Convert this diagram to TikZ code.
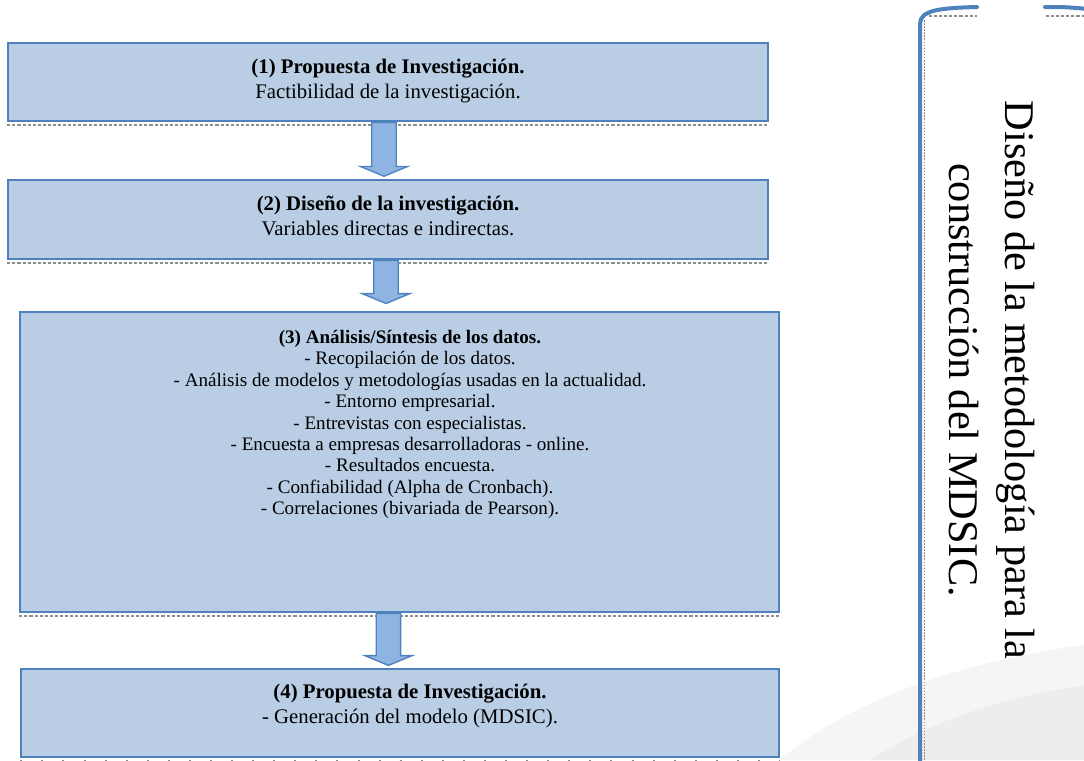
\documentclass[tikz,border=0pt]{standalone}
\usepackage{fontspec}
\setmainfont{Liberation Serif}
\usetikzlibrary{shapes.arrows, fit}
\definecolor{boxfill}{HTML}{B9CDE4}
\definecolor{boxline}{HTML}{4F81BD}
\definecolor{arrowfill}{HTML}{8EB4E3}
\definecolor{shadowgray}{HTML}{8C8C8C}

\begin{document}
\begin{tikzpicture}[x=0.65pt, y=-0.65pt,
    stagebox/.style={draw=boxline, fill=boxfill, line width=0.9pt, inner sep=0pt},
    stagetext/.style={align=center, anchor=north, inner sep=0pt, font=\fontsize{13.5}{16.2}\selectfont},
    downarrow/.style={single arrow, draw=boxline, fill=arrowfill, line width=0.9pt,
        rotate=-90, anchor=tail, inner xsep=0pt, inner ysep=7.5pt,
        single arrow head extend=7.4pt, single arrow tip angle=135},
    boxshadow/.style={shadowgray, line width=1.3pt, dash pattern=on 2pt off 1.3pt},
    scrollline/.style={boxline, line width=2.6pt, line cap=round}]
    \useasboundingbox (0,0) rectangle (1084,760);

    % Faint globe watermark (bottom right)
    \fill[black!4] (780,760) .. controls (850,700) and (960,662) .. (1084,645) -- (1084,760) -- cycle;
    \fill[black!7] (870,760) .. controls (930,722) and (1000,697) .. (1084,686) -- (1084,760) -- cycle;

    % Stage boxes
    \node[stagebox, fit={(8,43) (768,121)}] (prop) {};
    \node[stagebox, fit={(8,180) (768,259)}] (dis) {};
    \node[stagebox, fit={(20,312) (779,612)}] (ana) {};
    \node[stagebox, fit={(21,669) (779,757)}] (gen) {};

    % Dotted shadows under the boxes
    \draw[boxshadow] ([yshift=-2pt]prop.south west) -- ([yshift=-2pt]prop.south east);
    \draw[boxshadow] ([yshift=-2pt]dis.south west) -- ([yshift=-2pt]dis.south east);
    \draw[boxshadow] ([yshift=-2pt]ana.south west) -- ([yshift=-2pt]ana.south east);
    \draw[boxshadow, dash pattern=on 1.3pt off 12.4pt] ([yshift=-2pt]gen.south west) -- ([yshift=-2pt]gen.south east);

    % Block arrows between the stages
    \node[downarrow, minimum height=35pt] (a1) at ([xshift=-2.6pt]prop.south) {};
    \node[downarrow, minimum height=28pt] (a2) at ([xshift=-1.3pt]dis.south) {};
    \node[downarrow, minimum height=33.8pt] (a3) at ([xshift=-7.2pt]ana.south) {};

    % Texts of the stages
    \node[stagetext] (t1) at (388,59) {\textbf{(1) Propuesta de Investigación.}\\Factibilidad de la investigación.};
    \node[stagetext] (t2) at (388,196) {\textbf{(2) Diseño de la investigación.}\\Variables directas e indirectas.};
    \node[stagetext, font=\fontsize{12.4}{13.9}\selectfont] (t3) at (410,330) {\textbf{(3) Análisis/Síntesis de los datos.}\\
        - Recopilación de los datos.\\
        - Análisis de modelos y metodologías usadas en la actualidad.\\
        - Entorno empresarial.\\
        - Entrevistas con especialistas.\\
        - Encuesta a empresas desarrolladoras - online.\\
        - Resultados encuesta.\\
        - Confiabilidad (Alpha de Cronbach).\\
        - Correlaciones (bivariada de Pearson).};
    \node[stagetext] (t4) at (410,684) {\textbf{(4) Propuesta de Investigación.}\\- Generación del modelo (MDSIC).};

    % Scroll outline on the right
    \draw[boxshadow, line width=1pt] (929,16) -- (977,16);
    \draw[boxshadow, line width=1pt] (1046,16) -- (1084,16);
    \draw[boxshadow, line width=0.8pt, dash pattern=on 1pt off 1pt] (924.5,20) -- (924.5,760);
    \draw[scrollline] (977,7) .. controls (940,8) and (920,10) .. (920,24) -- (920,764);
    \draw[scrollline] (1045,7) .. controls (1065,7) .. (1088,9);

    % Rotated title
    \node[align=center, rotate=-90, font=\fontsize{27.5}{36.4}\selectfont] (titulo) at (992,380)
        {Diseño de la metodología para la\\construcción del MDSIC.};
\end{tikzpicture}
\end{document}
